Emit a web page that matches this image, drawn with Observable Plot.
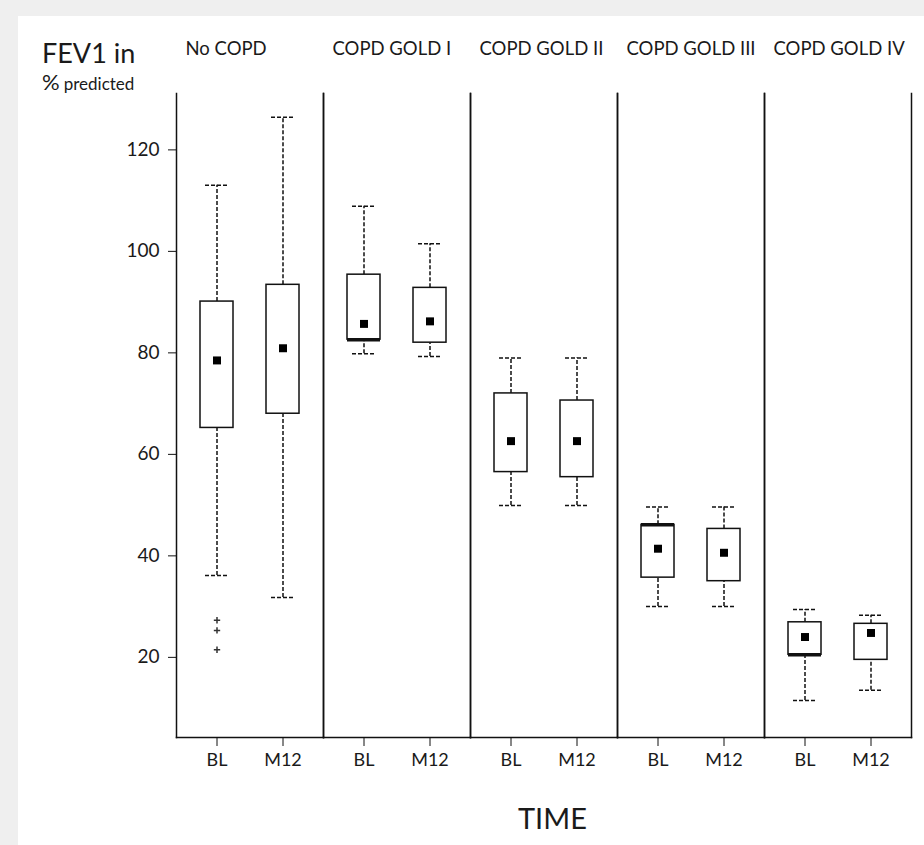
<!DOCTYPE html>
<html>
<head>
<meta charset="utf-8">
<script src="https://cdn.jsdelivr.net/npm/d3@7"></script>
<script src="https://cdn.jsdelivr.net/npm/@observablehq/plot@0.6"></script>
<style>
  html, body { margin: 0; padding: 0; }
  body { width: 924px; height: 845px; background: #efefef; position: relative; overflow: hidden; font-family: Lato, "Open Sans", sans-serif; color: #1a1a1a; }
  #panel { position: absolute; left: 18px; top: 16px; width: 906px; height: 829px; background: #fff; }
  #chart { position: absolute; left: 0; top: 0; }
  .lab { position: absolute; white-space: nowrap; line-height: 1; }
</style>
</head>
<body>
<div id="panel"></div>
<div id="chart"></div>
<div class="lab" id="t1" style="left:42px; top:39px; font-size:27px;">FEV1 in</div>
<div class="lab" id="t2" style="left:42px; top:71px;"><span style="font-size:22px;">%</span> <span style="font-size:17px;">predicted</span></div>
<div class="lab" id="t3" style="left:518px; top:803px; font-size:29px;">TIME</div>
<script>
const groups = ["No COPD", "COPD GOLD I", "COPD GOLD II", "COPD GOLD III", "COPD GOLD IV"];
const times = ["BL", "M12"];
// one entry per group x time, in order: group0 BL, group0 M12, group1 BL, ...
const mins    = [36.7, 32.4, 80.4, 79.9, 50.5, 50.5, 30.6, 30.6, 12.1, 14.1];
const q1s     = [65.8, 68.6, 83.2, 82.6, 57.1, 56.1, 36.3, 35.6, 21.1, 20.1];
const q3s     = [90.7, 94.0, 96.0, 93.4, 72.6, 71.2, 46.7, 45.9, 27.5, 27.2];
const maxs    = [113.6, 127.0, 109.5, 102.1, 79.6, 79.6, 50.2, 50.2, 30.0, 28.9];
const means   = [79.1, 81.5, 86.3, 86.8, 63.2, 63.2, 42.0, 41.2, 24.6, 25.4];
const medians = [null, null, 83.2, null, null, null, 46.7, null, 21.1, null];
const outlierGroup = "No COPD";
const outlierTime = "BL";
const outlierValues = [27.9, 25.9, 22.1];
const yTicks = [20, 40, 60, 80, 100, 120];

const boxes = [];
groups.forEach((g, gi) => times.forEach((t, ti) => {
  const i = gi * 2 + ti;
  boxes.push({group: g, time: t, min: mins[i], q1: q1s[i], q3: q3s[i], max: maxs[i], mean: means[i], median: medians[i]});
}));
const outliers = outlierValues.map(v => ({group: outlierGroup, time: outlierTime, value: v}));
const medianRows = boxes.filter(d => d.median != null);

const plot = Plot.plot({
  width: 924,
  height: 845,
  marginLeft: 176,
  marginRight: 13,
  marginTop: 93,
  marginBottom: 108,
  style: {background: "transparent", fontFamily: "Lato, 'Open Sans', sans-serif", color: "#1a1a1a"},
  fx: {domain: groups, padding: 0, axis: null},
  x: {domain: times, paddingInner: 0.5, paddingOuter: 0.35, axis: null},
  y: {domain: [4.8, 131.7], axis: null},
  marks: [
    Plot.frame({anchor: "left", stroke: "#111", strokeWidth: 1.5}),
    Plot.frame({anchor: "right", stroke: "#111", strokeWidth: 1.5}),
    Plot.frame({anchor: "bottom", stroke: "#111", strokeWidth: 1.5}),
    Plot.axisY({ticks: yTicks, tickSize: 8, tickPadding: 9, fontSize: 19, label: null, dy: -3, stroke: "#111"}),
    Plot.axisX({tickSize: 9, tickPadding: 7, fontSize: 18, label: null, stroke: "#111"}),
    Plot.text(groups, {fx: d => d, text: d => d, frameAnchor: "top-left", textAnchor: "start", lineAnchor: "middle", dx: 9, dy: -44, fontSize: 18.5, fill: "#1a1a1a"}),
    // whiskers
    Plot.ruleX(boxes, {fx: "group", x: "time", y1: "q3", y2: "max", stroke: "#111", strokeWidth: 1.5, strokeDasharray: "4,2"}),
    Plot.ruleX(boxes, {fx: "group", x: "time", y1: "min", y2: "q1", stroke: "#111", strokeWidth: 1.5, strokeDasharray: "4,2"}),
    Plot.tickY(boxes, {fx: "group", x: "time", y: "max", inset: 5, stroke: "#111", strokeWidth: 1.5, strokeDasharray: "4,2"}),
    Plot.tickY(boxes, {fx: "group", x: "time", y: "min", inset: 5, stroke: "#111", strokeWidth: 1.5, strokeDasharray: "4,2"}),
    // boxes
    Plot.barY(boxes, {fx: "group", x: "time", y1: "q1", y2: "q3", fill: "white", stroke: "#111", strokeWidth: 1.5}),
    Plot.tickY(medianRows, {fx: "group", x: "time", y: "median", stroke: "#111", strokeWidth: 3.5}),
    // means
    Plot.dot(boxes, {fx: "group", x: "time", y: "mean", symbol: "square", r: 4.5, fill: "#000", stroke: "none"}),
    // outliers
    Plot.dot(outliers, {fx: "group", x: "time", y: "value", symbol: "plus", r: 2.2, stroke: "#333", strokeWidth: 1.5})
  ]
});
document.getElementById("chart").appendChild(plot);
</script>
</body>
</html>
